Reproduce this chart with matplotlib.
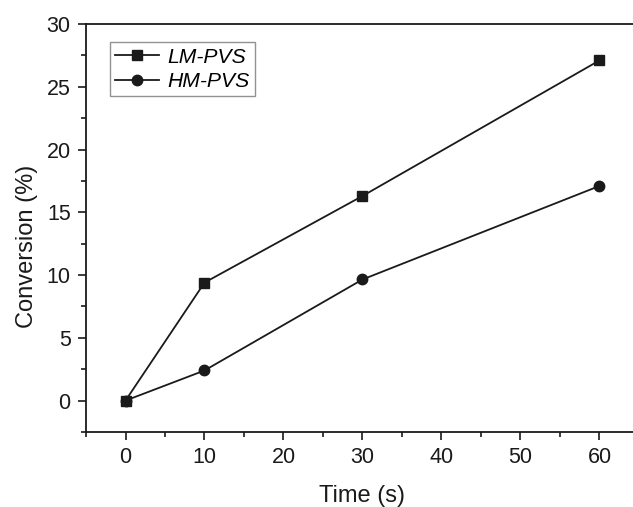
import matplotlib
matplotlib.use("Agg")
import matplotlib.pyplot as plt
from matplotlib.ticker import MultipleLocator

plt.rcParams['font.family'] = ['Liberation Sans', 'DejaVu Sans']

time_s = [0, 10, 30, 60]
lm_pvs = [0, 9.4, 16.3, 27.1]
hm_pvs = [0, 2.4, 9.65, 17.1]
series_labels = ["LM-PVS", "HM-PVS"]

fig = plt.figure(figsize=(6.33, 5.07), dpi=100)
W, H = 633, 507
ax = fig.add_axes([86 / W, (H - 432) / H, 553 / W, (432 - 24) / H])

ax.plot(time_s, lm_pvs, color='#1a1a1a', lw=1.3, marker='s', ms=7, label=series_labels[0])
ax.plot(time_s, hm_pvs, color='#1a1a1a', lw=1.3, marker='o', ms=7.5, label=series_labels[1])

ax.set_xlim(-5, 65)
ax.set_ylim(-2.5, 30)
ax.xaxis.set_major_locator(MultipleLocator(10))
ax.xaxis.set_minor_locator(MultipleLocator(5))
ax.yaxis.set_major_locator(MultipleLocator(5))
ax.yaxis.set_minor_locator(MultipleLocator(2.5))
ax.tick_params(which='major', direction='out', length=6, width=1.2, labelsize=15.5, colors='#1a1a1a', pad=5)
ax.tick_params(which='minor', direction='out', length=3.5, width=1.2, colors='#1a1a1a')
for s in ax.spines.values():
    s.set_linewidth(1.3)
    s.set_color('#1a1a1a')

ax.set_xlabel('Time (s)', fontsize=17, color='#1a1a1a', labelpad=12)
ax.set_ylabel('Conversion (%)', fontsize=17, color='#1a1a1a', labelpad=6)
ax.yaxis.label.set_y(0.455)

leg = ax.legend(loc='upper left', bbox_to_anchor=(0.043, 0.955), fancybox=False,
                edgecolor='#777777', prop={'style': 'italic', 'size': 15.2},
                handlelength=2.1, borderpad=0.25, labelspacing=0.25, handletextpad=0.4,
                borderaxespad=0)
leg.get_frame().set_linewidth(1.0)

fig.savefig('out.png', dpi=100)
